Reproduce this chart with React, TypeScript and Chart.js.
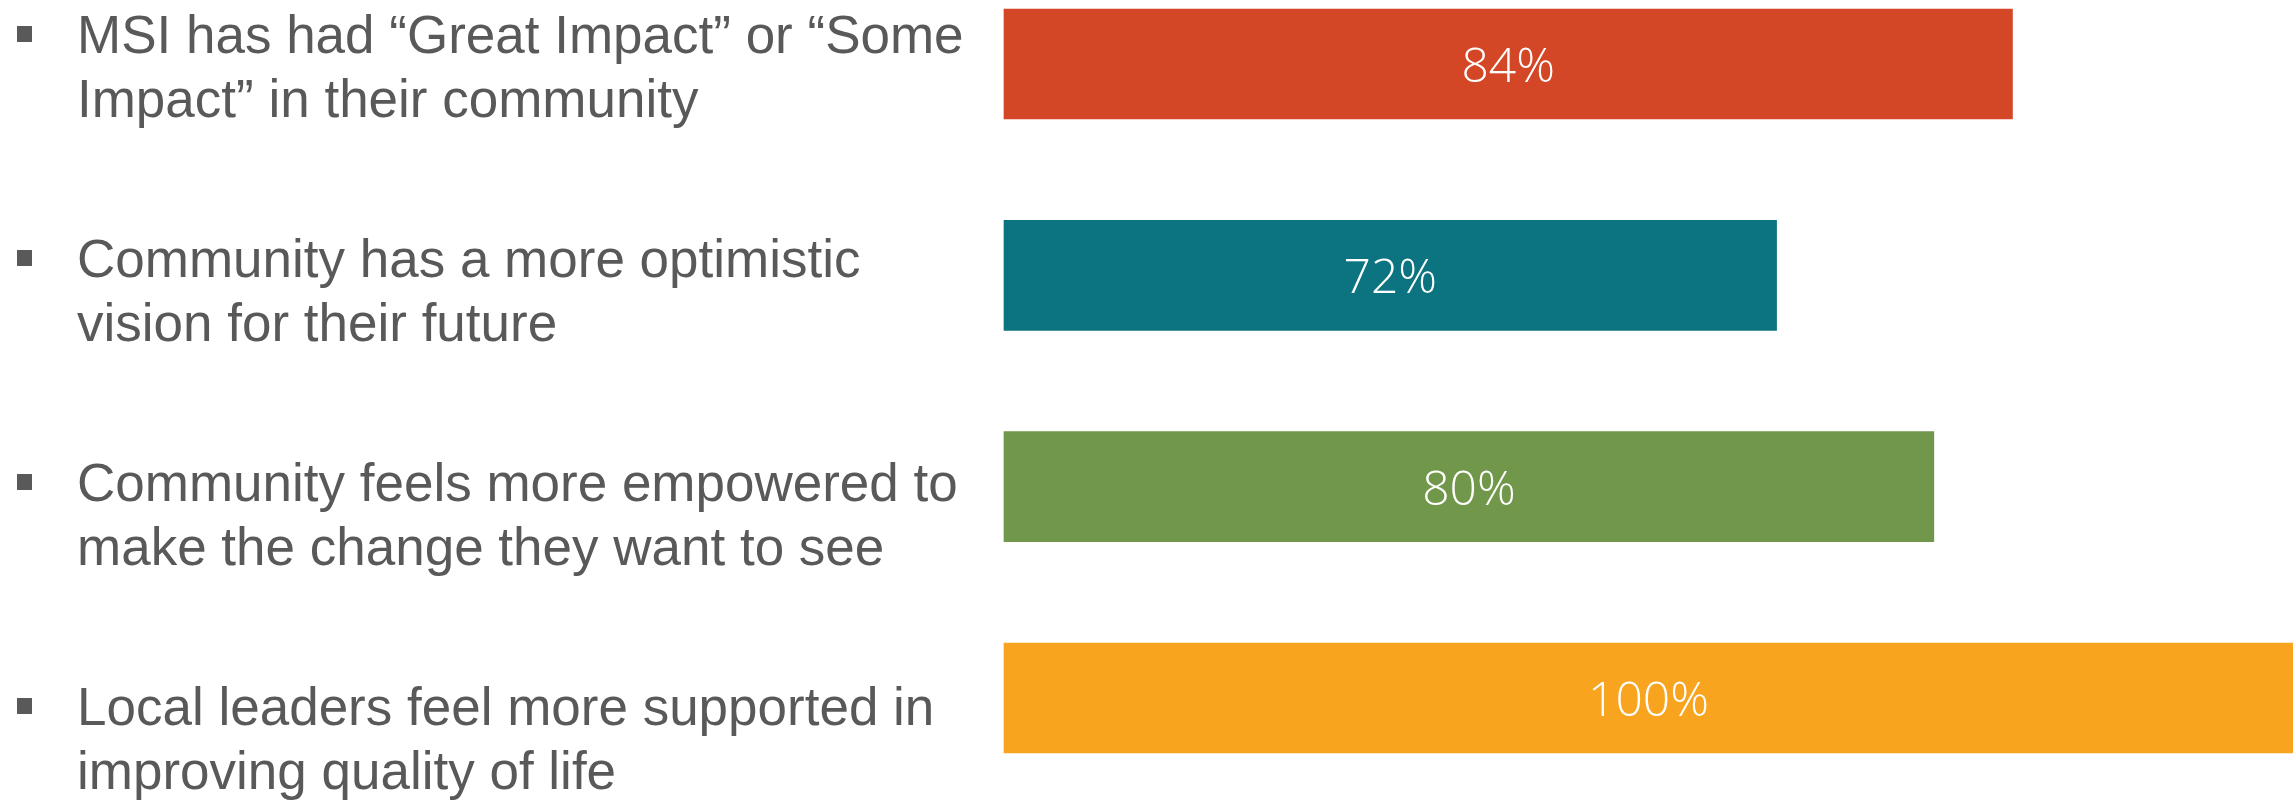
import React, { useEffect, useRef } from 'react';
import { Chart, registerables } from 'chart.js';

Chart.register(...registerables);

// ---- data ----
const categoryLines: string[][] = [
  ['MSI has had “Great Impact” or “Some', 'Impact” in their community'],
  ['Community has a more optimistic', 'vision for their future'],
  ['Community feels more empowered to', 'make the change they want to see'],
  ['Local leaders feel more supported in', 'improving quality of life'],
];
const categories = categoryLines.map((l) => l.join(' '));
const values = [84, 72, 80, 100];
const valueLabels = ['84%', '72%', '80%', '100%'];
const barColors = ['#D34726', '#0B7480', '#71974B', '#F9A41E'];
const X_MIN = 32.7;
const X_MAX = 100;

// ---- layout / style ----
const VISIBLE_W = 2293;
const CANVAS_W = 2330;
const CANVAS_H = 807;
const TEXT_GREY = '#595959';

const leftLabelsPlugin = {
  id: 'leftLabels',
  afterDraw(chart: any) {
    const ctx = chart.ctx as CanvasRenderingContext2D;
    ctx.save();
    ctx.fillStyle = TEXT_GREY;
    ctx.font = '53px "Liberation Sans", Arial, sans-serif';
    ctx.textAlign = 'left';
    ctx.textBaseline = 'alphabetic';
    categoryLines.forEach((lines, i) => {
      const baseline = 53 + i * 224;
      ctx.fillRect(17, baseline - 27, 15, 16);
      lines.forEach((t, j) => ctx.fillText(t, 77, baseline + j * 64));
    });
    ctx.restore();
  },
};

const valueLabelsPlugin = {
  id: 'valueLabels',
  afterDatasetsDraw(chart: any) {
    const ctx = chart.ctx as CanvasRenderingContext2D;
    const meta = chart.getDatasetMeta(0);
    ctx.save();
    ctx.fillStyle = '#FFFFFF';
    ctx.font = '300 48px "Open Sans", "Noto Sans", sans-serif';
    ctx.textAlign = 'center';
    ctx.textBaseline = 'alphabetic';
    meta.data.forEach((bar: any, i: number) => {
      const { x, y, base } = bar.getProps(['x', 'y', 'base'], true);
      const cx = (base + Math.min(x, VISIBLE_W)) / 2;
      ctx.fillText(valueLabels[i], cx, y + 18);
    });
    ctx.restore();
  },
};

export default function App() {
  const ref = useRef<HTMLCanvasElement>(null);
  useEffect(() => {
    if (!ref.current) return;
    const chart = new Chart(ref.current, {
      type: 'bar',
      data: {
        labels: categories,
        datasets: [
          {
            data: values,
            backgroundColor: barColors,
            borderWidth: 0,
            barThickness: 110,
            base: X_MIN,
            clip: false as any,
          } as any,
        ],
      },
      options: {
        indexAxis: 'y',
        responsive: false,
        animation: false,
        devicePixelRatio: 1,
        layout: { padding: { left: 1004, right: 3, top: 64, bottom: 109 } },
        scales: {
          x: { display: false, min: X_MIN, max: X_MAX },
          y: { display: false, offset: false },
        },
        plugins: {
          legend: { display: false },
          tooltip: { enabled: false },
        },
      },
      plugins: [leftLabelsPlugin, valueLabelsPlugin],
    });
    return () => chart.destroy();
  }, []);

  return (
    <div
      style={{
        position: 'fixed',
        left: 0,
        top: 0,
        width: VISIBLE_W,
        height: CANVAS_H,
        overflow: 'hidden',
        background: '#FFFFFF',
      }}
    >
      <canvas ref={ref} width={CANVAS_W} height={CANVAS_H} style={{ display: 'block', width: CANVAS_W, height: CANVAS_H }} />
    </div>
  );
}
